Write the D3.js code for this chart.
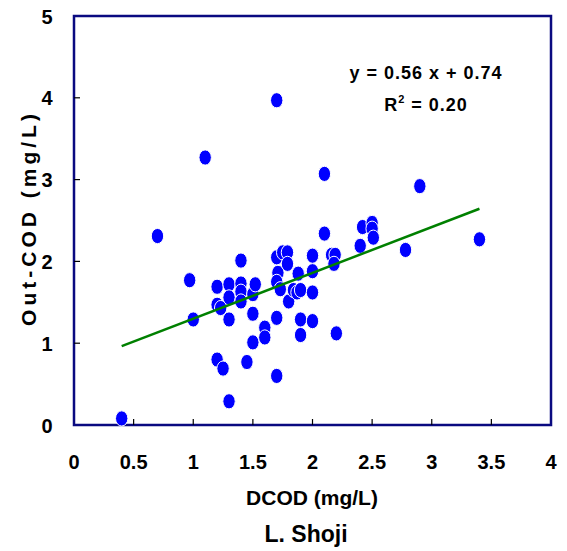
<!DOCTYPE html>
<html>
<head>
<meta charset="utf-8">
<script src="https://cdn.jsdelivr.net/npm/d3@7"></script>
<style>
  body { margin: 0; background: #fff; }
  svg text { font-family: "Liberation Sans Narrow", "Arial Narrow", "Liberation Sans", sans-serif; font-weight: bold; fill: #000; }
</style>
</head>
<body>
<script>
// DCOD vs Out-COD, L. Shoji
var dcod = [0.4, 0.7, 0.97, 1.0, 1.1, 1.2, 1.2, 1.23, 1.2, 1.25,
  1.3, 1.3, 1.3, 1.3, 1.4, 1.4, 1.4, 1.4, 1.5, 1.52,
  1.5, 1.5, 1.45, 1.6, 1.6, 1.7, 1.7, 1.7, 1.7, 1.71,
  1.7, 1.73, 1.75, 1.79, 1.79, 1.8, 1.88, 1.84, 1.87, 1.9,
  1.9, 1.9, 2.0, 2.0, 2.0, 2.0, 2.1, 2.1, 2.16, 2.19,
  2.18, 2.2, 2.4, 2.42, 2.5, 2.5, 2.51, 2.78, 2.9, 3.4];
var outCod = [0.08, 2.31, 1.77, 1.29, 3.27, 1.69, 1.47, 1.43, 0.80, 0.69,
  1.72, 1.56, 1.29, 0.29, 2.01, 1.73, 1.63, 1.51, 1.60, 1.72,
  1.36, 1.01, 0.77, 1.19, 1.07, 3.97, 0.60, 1.31, 2.05, 1.86,
  1.75, 1.66, 2.11, 2.11, 1.97, 1.51, 1.85, 1.65, 1.62, 1.65,
  1.29, 1.10, 2.07, 1.88, 1.62, 1.27, 2.34, 3.07, 2.08, 2.08,
  1.97, 1.12, 2.19, 2.42, 2.47, 2.40, 2.29, 2.14, 2.92, 2.27];
var xTicks = [0, 0.5, 1, 1.5, 2, 2.5, 3, 3.5, 4];
var yTicks = [0, 1, 2, 3, 4, 5];
var slope = 0.56, intercept = 0.74, fitRange = [0.4, 3.4];

var width = 567, height = 551;
var plotLeft = 74, plotRight = 551, plotTop = 16, plotBottom = 425;
var axisColor = "#0a0a80";

var canvas = d3.select("body").append("svg")
  .attr("width", width)
  .attr("height", height);

var xScale = d3.scaleLinear().domain([0, 4]).range([plotLeft, plotRight]);
var yScale = d3.scaleLinear().domain([0, 5]).range([plotBottom, plotTop]);

// frame
canvas.append("rect")
  .attr("x", plotLeft).attr("y", plotTop)
  .attr("width", plotRight - plotLeft).attr("height", plotBottom - plotTop)
  .style("fill", "none")
  .style("stroke", axisColor)
  .style("stroke-width", 2.5);

// inward ticks
canvas.selectAll(".xtick")
  .data(xTicks.slice(1, -1))
  .enter().append("line")
  .attr("x1", function(d){return xScale(d);}).attr("x2", function(d){return xScale(d);})
  .attr("y1", plotBottom).attr("y2", plotBottom - 6)
  .style("stroke", "#000").style("stroke-width", 1.2);

canvas.selectAll(".ytick")
  .data(yTicks.slice(1, -1))
  .enter().append("line")
  .attr("x1", plotLeft).attr("x2", plotLeft + 6)
  .attr("y1", function(d){return yScale(d);}).attr("y2", function(d){return yScale(d);})
  .style("stroke", "#000").style("stroke-width", 1.2);

// tick labels
canvas.selectAll(".xlab")
  .data(xTicks)
  .enter().append("text")
  .text(function(d){return d;})
  .attr("x", function(d){return xScale(d);})
  .attr("y", 469)
  .attr("text-anchor", "middle")
  .attr("font-size", "20px");

canvas.selectAll(".ylab")
  .data(yTicks)
  .enter().append("text")
  .text(function(d){return d;})
  .attr("x", 47)
  .attr("y", function(d){return yScale(d) + 7.5;})
  .attr("text-anchor", "middle")
  .attr("font-size", "20px");

// axis titles
canvas.append("text")
  .text("DCOD (mg/L)")
  .attr("x", 312).attr("y", 505)
  .attr("text-anchor", "middle")
  .attr("font-size", "21px");

canvas.append("text")
  .text("L. Shoji")
  .attr("x", 306).attr("y", 542)
  .attr("text-anchor", "middle")
  .attr("font-size", "23px");

canvas.append("text")
  .text("Out-COD (mg/L)")
  .attr("transform", "translate(36,218) rotate(-90)")
  .attr("text-anchor", "middle")
  .attr("font-size", "21px")
  .style("letter-spacing", "4px");

// points
var pts = dcod.map(function(d, i){return {x: d, y: outCod[i]};});
canvas.selectAll(".pt")
  .data(pts)
  .enter().append("ellipse")
  .attr("cx", function(d){return xScale(d.x);})
  .attr("cy", function(d){return yScale(d.y);})
  .attr("rx", 6.2)
  .attr("ry", 7.6)
  .style("fill", "#0000ff")
  .style("stroke", "#fff")
  .style("stroke-width", 1);

// fit line
canvas.append("line")
  .attr("x1", xScale(fitRange[0])).attr("y1", yScale(slope * fitRange[0] + intercept))
  .attr("x2", xScale(fitRange[1])).attr("y2", yScale(slope * fitRange[1] + intercept))
  .style("stroke", "#008000")
  .style("stroke-width", 2.5);

// equation
canvas.append("text")
  .text("y = 0.56 x + 0.74")
  .attr("x", 426).attr("y", 79)
  .attr("text-anchor", "middle")
  .attr("font-size", "18px")
  .style("letter-spacing", "1px");

var r2 = canvas.append("text")
  .attr("x", 426).attr("y", 111)
  .attr("text-anchor", "middle")
  .attr("font-size", "18px")
  .style("letter-spacing", "1px");
r2.append("tspan").text("R");
r2.append("tspan").text("2").attr("font-size", "11px").attr("dy", -8);
r2.append("tspan").text(" = 0.20").attr("dy", 8);
</script>
</body>
</html>
